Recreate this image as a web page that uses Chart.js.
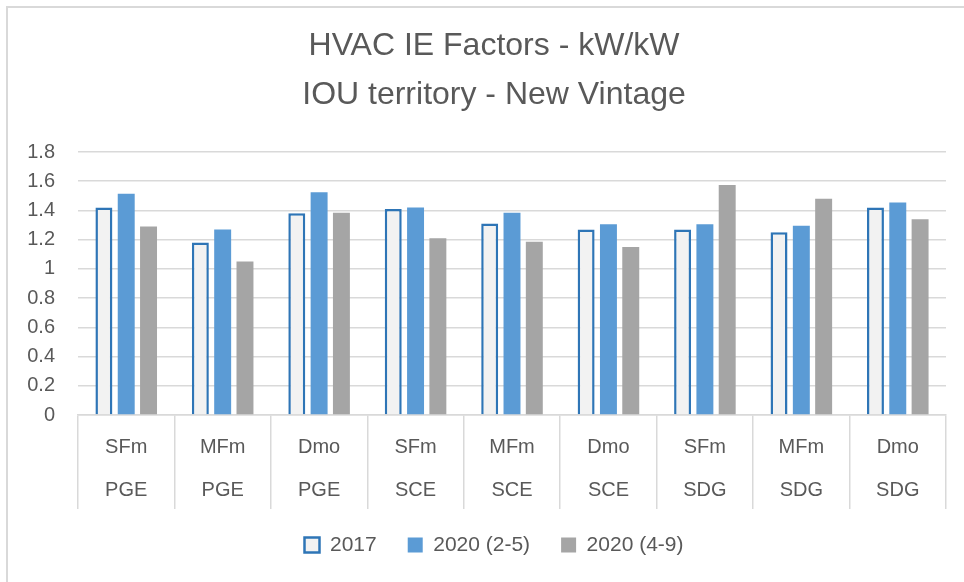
<!DOCTYPE html>
<html>
<head>
<meta charset="utf-8">
<script src="https://cdn.jsdelivr.net/npm/chart.js@4.4.1/dist/chart.umd.min.js"></script>
<style>
  body { margin: 0; background: #fff; }
  #wrap { position: relative; width: 964px; height: 582px; overflow: hidden; }
  #frame { position: absolute; left: 6px; top: 6px; width: 1000px; height: 700px;
           border-left: 2px solid #d9d9d9; border-top: 2px solid #d9d9d9; }
  canvas { position: absolute; left: 0; top: 0; }
</style>
</head>
<body>
<div id="wrap">
  <div id="frame"></div>
  <canvas id="grafico" width="964" height="582"></canvas>
</div>
<script>
// tipos de vivienda y territorio (etiquetas de 2 niveles)
var tipos = ["SFm", "MFm", "Dmo", "SFm", "MFm", "Dmo", "SFm", "MFm", "Dmo"];
var territorio = ["PGE", "PGE", "PGE", "SCE", "SCE", "SCE", "SDG", "SDG", "SDG"];

var serie_2017 = [1.42, 1.18, 1.38, 1.41, 1.31, 1.27, 1.27, 1.25, 1.42];
var serie_2020_25 = [1.515, 1.27, 1.525, 1.42, 1.385, 1.305, 1.305, 1.295, 1.455];
var serie_2020_49 = [1.29, 1.05, 1.385, 1.21, 1.185, 1.15, 1.575, 1.48, 1.34];

var titulo = ["HVAC IE Factors - kW/kW", "IOU territory - New Vintage"];
var fuente = "'Liberation Sans', Arial, sans-serif";
var gris = "#595959";
var lineas = "#d9d9d9";

var etiquetas = tipos.map(function (t, i) { return [t, territorio[i]]; });

var datos = {
    labels: etiquetas,
    datasets: [
        { label: "2017", data: serie_2017, backgroundColor: "#f2f2f2", borderColor: "#2e75b6", borderWidth: 2.5 },
        { label: "2020 (2-5)", data: serie_2020_25, backgroundColor: "#5b9bd5", borderColor: "#5b9bd5", borderWidth: 0 },
        { label: "2020 (4-9)", data: serie_2020_49, backgroundColor: "#a5a5a5", borderColor: "#a5a5a5", borderWidth: 0 }
    ]
};

var opciones = {
    responsive: false,
    animation: false,
    layout: { padding: { left: 42, right: 18, top: 0, bottom: 16.5 } },
    datasets: { bar: { categoryPercentage: 0.694, barPercentage: 0.76 } },
    plugins: {
        title: {
            display: true,
            text: titulo,
            color: gris,
            font: { family: fuente, size: 32, weight: "normal", lineHeight: 1.55 },
            padding: { top: 21.2, bottom: 31.6 }
        },
        legend: {
            position: "bottom",
            labels: {
                color: gris,
                font: { family: fuente, size: 21 },
                boxWidth: 15,
                boxHeight: 15,
                padding: 31
            }
        },
        tooltip: { enabled: false }
    },
    scales: {
        x: {
            grid: { offset: true, drawOnChartArea: false, tickLength: 94, color: lineas, lineWidth: 1.5 },
            border: { color: lineas, width: 1.5 },
            ticks: {
                color: gris,
                font: { family: fuente, size: 20, lineHeight: 2.15 },
                padding: -83.5,
                maxRotation: 0,
                autoSkip: false
            },
            afterFit: function (escala) { escala.height = 88.5; }
        },
        y: {
            min: 0,
            max: 1.8,
            grid: { drawTicks: false, color: lineas, lineWidth: 1.5 },
            border: { display: false },
            ticks: {
                stepSize: 0.2,
                color: gris,
                font: { family: fuente, size: 20 },
                padding: 23,
                callback: function (v) { return String(+v.toFixed(1)); }
            },
            afterFit: function (escala) {
                escala.width = 36;
                // que las etiquetas no se recorten al ancho del eje
                escala._computeLabelArea = function () { return undefined; };
            }
        }
    }
};

var grafico = new Chart(document.getElementById("grafico").getContext("2d"), {
    type: "bar",
    data: datos,
    options: opciones
});
</script>
</body>
</html>
